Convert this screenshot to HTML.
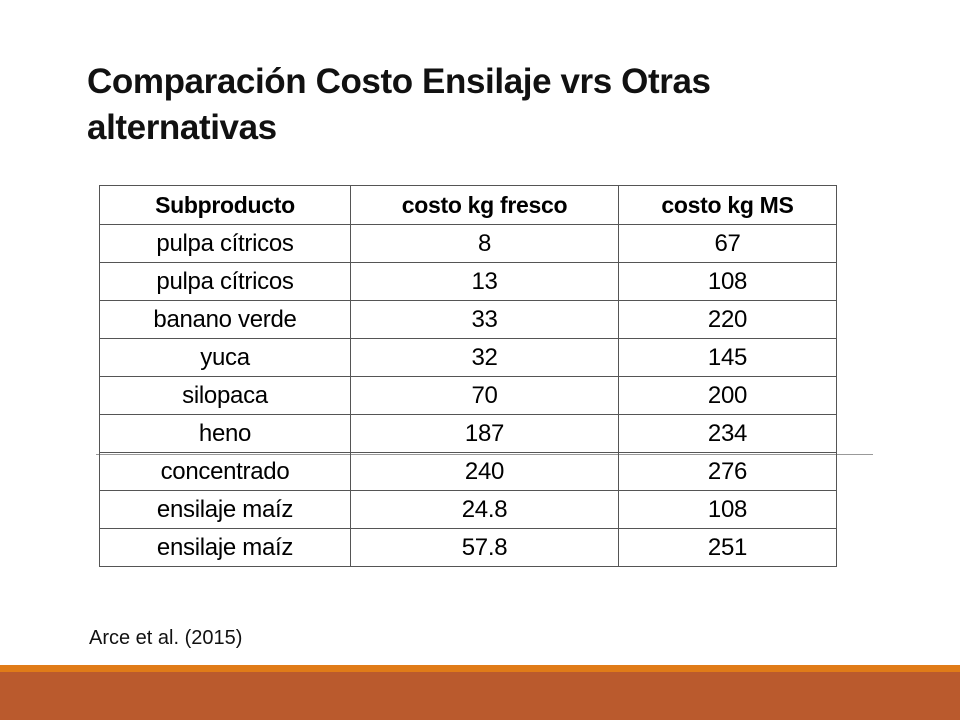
<!DOCTYPE html>
<html><head><meta charset="utf-8"><style>
body{margin:0;width:960px;height:720px;position:relative;background:#fff;font-family:"Liberation Sans",sans-serif;overflow:hidden}
#title{position:absolute;left:87px;top:59px;font-size:35px;font-weight:bold;line-height:46px;color:#111;letter-spacing:-0.4px}
table{position:absolute;left:99px;top:185px;border-collapse:collapse;font-size:24px;color:#000}
td,th{border:1.5px solid #555;text-align:center;padding:0;height:37px;letter-spacing:-0.3px}
th{height:38px;font-weight:bold;font-size:23px}
#hline{position:absolute;left:96px;top:454px;width:777px;height:1px;background:#999}
#cite{position:absolute;left:89px;top:627px;font-size:20px;color:#111}
#band1{position:absolute;left:0;top:665px;width:960px;height:7px;background:#e07b18}
#band2{position:absolute;left:0;top:672px;width:960px;height:48px;background:#ba5a2d}
</style></head><body>
<div id="hline"></div>
<div id="title">Comparación Costo Ensilaje vrs Otras<br>alternativas</div>
<table>
<colgroup><col style="width:251px"><col style="width:268px"><col style="width:218px"></colgroup>
<tr><th>Subproducto</th><th>costo kg fresco</th><th>costo kg MS</th></tr>
<tr><td>pulpa cítricos</td><td>8</td><td>67</td></tr>
<tr><td>pulpa cítricos</td><td>13</td><td>108</td></tr>
<tr><td>banano verde</td><td>33</td><td>220</td></tr>
<tr><td>yuca</td><td>32</td><td>145</td></tr>
<tr><td>silopaca</td><td>70</td><td>200</td></tr>
<tr><td>heno</td><td>187</td><td>234</td></tr>
<tr><td>concentrado</td><td>240</td><td>276</td></tr>
<tr><td>ensilaje maíz</td><td>24.8</td><td>108</td></tr>
<tr><td>ensilaje maíz</td><td>57.8</td><td>251</td></tr>
</table>
<div id="cite">Arce et al. (2015)</div>
<div id="band1"></div>
<div id="band2"></div>
</body></html>
